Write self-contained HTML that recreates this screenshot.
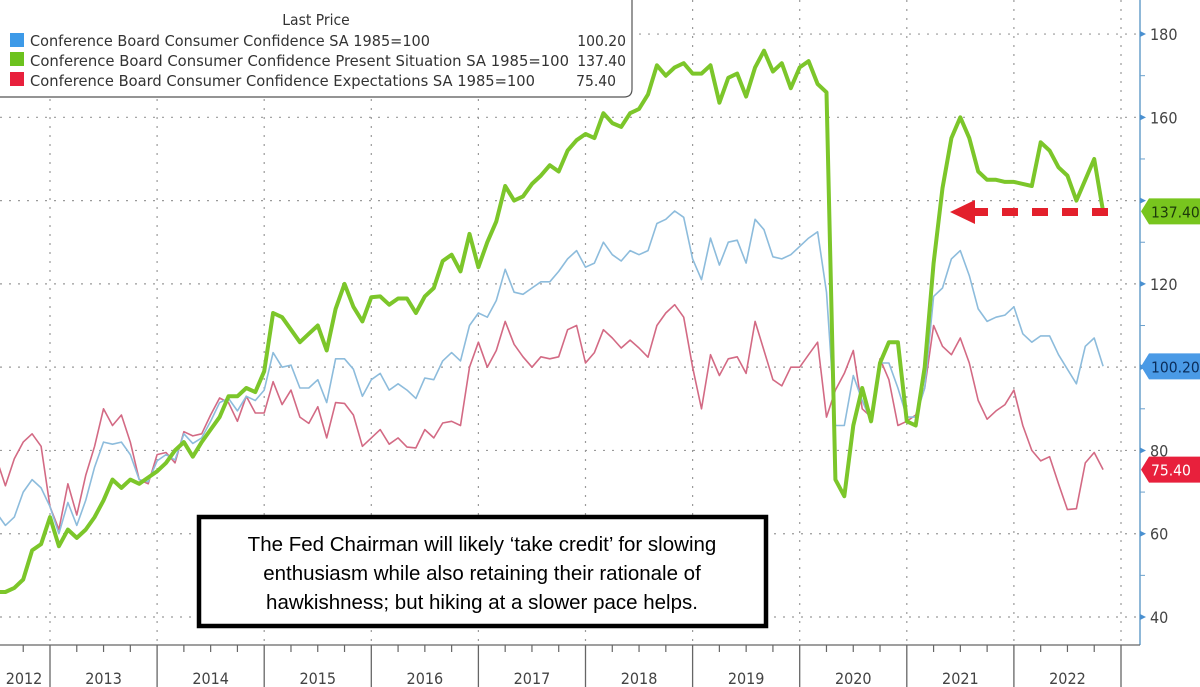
<!DOCTYPE html>
<html><head><meta charset="utf-8"><title>Conference Board Consumer Confidence</title>
<style>
html,body{margin:0;padding:0;background:#fff;}
svg{display:block;}
text{font-family:"DejaVu Sans Condensed","DejaVu Sans","Liberation Sans",sans-serif;}
</style></head>
<body>
<svg id="chart" width="1200" height="687" viewBox="0 0 1200 687" xmlns="http://www.w3.org/2000/svg">
<g id="grid"></g>
<g id="series"></g>
<g id="axes"></g>
<g>
  <path d="M-2,-2 H632 V89 Q632,97 624,97 H-2 Z" fill="#fff" stroke="#555" stroke-width="1.2"/>
  <text x="316" y="25" font-size="15.5" fill="#333" text-anchor="middle">Last Price</text>
  <g>
    <rect x="10" y="33" width="14" height="14" fill="#3d9ae8"/>
    <text x="30" y="46" font-size="15.5" fill="#333" textLength="400" lengthAdjust="spacingAndGlyphs">Conference Board Consumer Confidence SA 1985=100</text>
    <text x="626" y="46" font-size="15.5" fill="#333" text-anchor="end">100.20</text>
  </g>
  <g>
    <rect x="10" y="52" width="14" height="14" fill="#6cc21e"/>
    <text x="30" y="66" font-size="15.5" fill="#333" textLength="539" lengthAdjust="spacingAndGlyphs">Conference Board Consumer Confidence Present Situation SA 1985=100</text>
    <text x="626" y="66" font-size="15.5" fill="#333" text-anchor="end">137.40</text>
  </g>
  <g>
    <rect x="10" y="72" width="14" height="14" fill="#e8203c"/>
    <text x="30" y="86" font-size="15.5" fill="#333" textLength="505" lengthAdjust="spacingAndGlyphs">Conference Board Consumer Confidence Expectations SA 1985=100</text>
    <text x="616" y="86" font-size="15.5" fill="#333" text-anchor="end">75.40</text>
  </g>
</g>
<g>
  <rect x="199" y="517" width="567" height="109" fill="#fff" stroke="#000" stroke-width="4.5"/>
  <text x="482" y="551" font-size="20.5" fill="#000" text-anchor="middle" style="font-family:'Liberation Sans',sans-serif">The Fed Chairman will likely ‘take credit’ for slowing</text>
  <text x="482" y="580" font-size="20.5" fill="#000" text-anchor="middle" style="font-family:'Liberation Sans',sans-serif">enthusiasm while also retaining their rationale of</text>
  <text x="482" y="609" font-size="20.5" fill="#000" text-anchor="middle" style="font-family:'Liberation Sans',sans-serif">hawkishness; but hiking at a slower pace helps.</text>
</g>
<g>
  <line x1="972" y1="212" x2="1108" y2="212" stroke="#e3202c" stroke-width="8" stroke-dasharray="16 14"/>
  <polygon points="950,212 975,200 975,224" fill="#e3202c"/>
</g>
</svg>
<script>
const years = ["2012","2013","2014","2015","2016","2017","2018","2019","2020","2021","2022"];
const yTicks = [40,60,80,100,120,140,160,180];
const startYear = 2012, startMonth = 6; // July 2012 (0-based month)
const total = [65,62,64,70,73,71,
66.5,60,67.5,62,68,76,82,81.5,82,79,73,72.5,
77.5,79,77.7,84,81.7,83,87,91.5,92.5,89.5,93,92,
94.5,103.5,100,100.5,95,95,97,91.5,102,102,99.5,93,
97,98.5,94.5,96,94.5,92.5,97.4,97,101.5,103.5,101.5,110,
113,112,116,123.5,118,117.5,119,120.5,120.5,123,126,128,
124,125,130,127,125.5,128,127,128,134.5,135.5,137.5,136,
126,121,131,124.5,130,130.5,125,135.5,133,126.5,126,127,
129,131,132.5,118,86,86,98,92,87,101,101,95,
88,88,95,117,119,126,128,122,114,111,112,112.5,
114.5,108,106,107.5,107.5,103,99.5,96,105,107,100.2];
const present = [46,46,47,49,56,57.5,
64,57,61,59,61,64,68,73,71,73,72,73.5,
75,77,80,82,78.5,82,85,88,93,93,95,94,
99,113,112,109,106,108,110,104,114,120,114.5,111,
116.8,117,115,116.5,116.5,113,117,119,125.5,127,123,132,
124,130,135,143.5,140,141,144,146,148.5,147,152,154.5,
156,155,161,158.6,157.7,161,162,165.5,172.5,170,172,173,
170.5,170.5,172.5,163.5,169.5,170.5,165,172,176,171,173,167,
172,173.5,168,166,73,69,86,95,87,101,106,106,
87,86,100,125,143,155,160,155,147,145,145,144.5,
144.5,144,143.5,154,152,148,146,140,145,150,137.4];
const expectations = [78,71.5,78,82,84,81,
66.5,61,72,64.5,74,81,90,86,88.5,82,73,72,
79,79.5,77,84.5,83.5,84,88.5,92.6,91.5,87,93,89,
89,96.5,91,94.5,88,86.5,90.5,83,91.5,91.3,88.5,81,
83,85,81.5,83,80.8,80.6,85,83,86.6,87,86,100,
106,100,104,111,105.5,102.5,100,102.5,102,102.5,109,110,
101,103.5,109,107,104.6,106.5,104.6,102.4,110,113,115,112,
100,90,103,98,102,102.5,98.5,111,104,97,95.5,100,
100,103,106,88,94.5,98.5,104,90,88,102,97,86,
87,88.5,95,110,105,103,107,101,92,87.5,89.5,91,
94.5,86,80,77.5,78.5,72,65.8,66,77,79.5,75.4];

const NS = "http://www.w3.org/2000/svg";
function xOfT(t){ return 50 + (t - 2013) * 107.1; }
function xOfIndex(i){ return xOfT(startYear + (startMonth + i) / 12); }
function yOf(v){ return 617 - (v - 40) * 4.164; }
function mk(tag, attrs, parent){ const e = document.createElementNS(NS, tag); for (const k in attrs) e.setAttribute(k, attrs[k]); parent.appendChild(e); return e; }

const grid = document.getElementById('grid');
const axes = document.getElementById('axes');
const series = document.getElementById('series');

yTicks.forEach(v => {
  const l = mk('line', {x1:0, x2:1140, y1:yOf(v), y2:yOf(v), stroke:'#9a9a9a', 'stroke-width':1.2, 'stroke-dasharray':'2 7'}, grid);
  
  
});
for (let y = 2013; y <= 2023; y++) {
  const x = xOfT(y);
  const l = mk('line', {x1:x, x2:x, y1:0, y2:645, stroke:'#9a9a9a', 'stroke-width':1.2, 'stroke-dasharray':'2 7'}, grid);
  
  
}

function drawLine(arr, color, w, name){
  const pts = arr.map((v,i) => xOfIndex(i).toFixed(1) + ',' + yOf(v).toFixed(1)).join(' ');
  const p = mk('polyline', {points:pts, fill:'none', stroke:color, 'stroke-width':w, 'stroke-linejoin':'round'}, series);
  
  
}
drawLine(expectations, '#d36a84', 1.6, 'expectations-line');
drawLine(total, '#8dbcdc', 1.6, 'total-confidence-line');
drawLine(present, '#7cc62a', 4, 'present-situation-line');

const ax = mk('line', {x1:1140, x2:1140, y1:0, y2:645, stroke:'#6aa0cc', 'stroke-width':1.5}, axes);


for (let v = 40; v <= 190; v += 10) {
  const y = yOf(v);
  if (v % 20 === 0) {
    const tri = mk('polygon', {points:`1140,${y-3} 1146,${y} 1140,${y+3}`, fill:'#4a90d0'}, axes);
    
    
  } else {
    const t = mk('line', {x1:1140, x2:1145, y1:y, y2:y, stroke:'#6aa0cc', 'stroke-width':1}, axes);
    
    
  }
}
yTicks.forEach(v => {
  if (v === 140) return;
  const t = mk('text', {x:1150, y:yOf(v)+6, 'font-size':16, fill:'#444'}, axes);
  t.textContent = v;
  
  
});

function tag(v, fill, textColor, label, name){
  const y = yOf(v);
  const p = mk('polygon', {points:`1141,${y} 1149,${y-13} 1200,${y-13} 1200,${y+13} 1149,${y+13}`, fill:fill}, axes);
  
  
  const t = mk('text', {x:1151, y:y+6, 'font-size':15.5, fill:textColor}, axes);
  t.textContent = label;
  
  
}
tag(present[present.length-1], '#78c51e', '#1d3a0a', present[present.length-1].toFixed(2), 'present-last-value-tag');
tag(total[total.length-1], '#4a9ae6', '#0b2d5a', total[total.length-1].toFixed(2), 'total-last-value-tag');
tag(expectations[expectations.length-1], '#e8203c', '#ffffff', expectations[expectations.length-1].toFixed(2), 'expectations-last-value-tag');

const bx = mk('line', {x1:0, x2:1140, y1:645, y2:645, stroke:'#666', 'stroke-width':1.3}, axes);


for (let y = 2012; y <= 2023; y++) {
  for (let q = 0; q < 4; q++) {
    const x = xOfT(y + q/4);
    if (x < 0 || x > 1140) continue;
    if (q === 0) {
      const l = mk('line', {x1:x, x2:x, y1:645, y2:687, stroke:'#666', 'stroke-width':1.3}, axes);
      
      
    } else {
      const l = mk('line', {x1:x, x2:x, y1:645, y2:652, stroke:'#666', 'stroke-width':1.2}, axes);
      
      
    }
  }
}
years.forEach(yr => {
  const yv = +yr;
  let cx = xOfT(yv + 0.5);
  if (yv === 2012) cx = 24;
  const t = mk('text', {x:cx, y:684, 'font-size':16, fill:'#444', 'text-anchor':'middle'}, axes);
  t.textContent = yr;
  
  
});
</script>
</body></html>
